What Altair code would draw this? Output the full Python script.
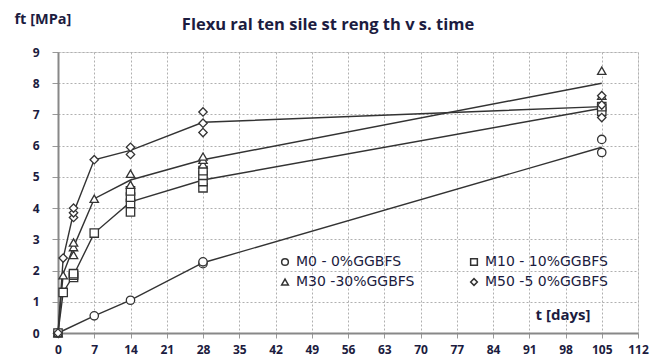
import altair as alt
import pandas as pd

# ---- data ----
series = ["M0 - 0%GGBFS", "M10 - 10%GGBFS", "M30 -30%GGBFS", "M50  -5 0%GGBFS"]
shapes = ["circle", "square", "triangle-up", "diamond"]

# mean lines
m0_line_t = [0, 7, 14, 28, 105]
m0_line_v = [0, 0.55, 1.05, 2.25, 5.95]
m10_line_t = [0, 1, 3, 7, 14, 28, 105]
m10_line_v = [0, 1.3, 1.85, 3.2, 4.2, 4.9, 7.2]
m30_line_t = [0, 1, 3, 7, 14, 28, 105]
m30_line_v = [0, 1.9, 2.75, 4.3, 4.9, 5.55, 8.0]
m50_line_t = [0, 1, 3, 7, 14, 28, 105]
m50_line_v = [0, 2.4, 3.85, 5.55, 5.85, 6.75, 7.25]

# individual specimens
m0_pts_t = [0, 7, 14, 28, 28, 105, 105]
m0_pts_v = [0, 0.55, 1.05, 2.22, 2.28, 5.78, 6.2]
m10_pts_t = [0, 1, 3, 3, 3, 7, 14, 14, 14, 14, 28, 28, 28, 28, 105, 105]
m10_pts_v = [0, 1.3, 1.78, 1.85, 1.9, 3.2, 3.88, 4.15, 4.35, 4.55, 4.65, 4.85, 5.05, 5.2, 7.1, 7.25]
m30_pts_t = [0, 1, 3, 3, 3, 7, 14, 14, 28, 28, 28, 105, 105]
m30_pts_v = [0, 1.85, 2.5, 2.75, 2.9, 4.3, 4.75, 5.1, 5.4, 5.55, 5.65, 7.6, 8.4]
m50_pts_t = [0, 1, 3, 3, 3, 7, 14, 14, 28, 28, 28, 105, 105, 105]
m50_pts_v = [0, 2.4, 3.7, 3.85, 4.0, 5.55, 5.72, 5.95, 6.42, 6.72, 7.08, 6.9, 7.3, 7.6]

x_ticks = list(range(0, 113, 7))
y_ticks = list(range(0, 10))

line_sets = [(m0_line_t, m0_line_v), (m10_line_t, m10_line_v),
             (m30_line_t, m30_line_v), (m50_line_t, m50_line_v)]
pt_sets = [(m0_pts_t, m0_pts_v), (m10_pts_t, m10_pts_v),
           (m30_pts_t, m30_pts_v), (m50_pts_t, m50_pts_v)]

line_rows, pt_rows = [], []
for s, (ts, vs) in zip(series, line_sets):
    for t, v in zip(ts, vs):
        line_rows.append({"series": s, "t": t, "v": v})
for s, (ts, vs) in zip(series, pt_sets):
    for t, v in zip(ts, vs):
        pt_rows.append({"series": s, "t": t, "v": v})
lines_df = pd.DataFrame(line_rows)
pts_df = pd.DataFrame(pt_rows)

ink = "#333333"
txt = "#1c1c40"

xs = alt.Scale(domain=[0, 112], nice=False, zero=False)
ys = alt.Scale(domain=[0, 9], nice=False)

x_axis = alt.Axis(values=x_ticks, title="t [days]", titleAngle=0,
                  titleX=532, titleY=-19, titleAlign="right", titleBaseline="middle",
                  titleFontSize=15, titleFontWeight="bold", titleColor=txt,
                  labelFontSize=12, labelFontWeight="bold", labelColor=txt,
                  labelPadding=6, tickSize=5, tickColor="#999999",
                  labelOverlap=False, labelFlush=False,
                  domainColor="#888888", domainWidth=2,
                  gridDash=[2, 2], gridColor="#b0b0b0")
y_axis = alt.Axis(values=y_ticks, title="ft [MPa]", titleAngle=0,
                  titleX=-44, titleY=-33, titleAlign="left", titleBaseline="middle",
                  titleFontSize=14.5, titleFontWeight="bold", titleColor=txt,
                  labelFontSize=12, labelFontWeight="bold", labelColor=txt,
                  labelOverlap=False,
                  labelPadding=13, tickSize=6, tickColor="#999999",
                  domainColor="#888888", domainWidth=2,
                  gridDash=[2, 2], gridColor="#b0b0b0")

legend = alt.Legend(title=None, orient="none", legendX=220, legendY=203,
                    columns=2, direction="horizontal",
                    columnPadding=52, rowPadding=6,
                    labelFontSize=14, labelColor=txt, labelFont="DejaVu Sans",
                    symbolSize=45, symbolFillColor="white", symbolStrokeWidth=1.5,
                    labelOffset=4, labelLimit=220)

lines = alt.Chart(lines_df).mark_line(color=ink, strokeWidth=1.4).encode(
    x=alt.X("t:Q", scale=xs, axis=x_axis),
    y=alt.Y("v:Q", scale=ys, axis=y_axis),
    detail="series:N",
    order="t:Q",
)

points = alt.Chart(pts_df).mark_point(filled=False, fill="white", fillOpacity=1,
                                      strokeWidth=1.3, size=70, opacity=1).encode(
    x=alt.X("t:Q", scale=xs, axis=x_axis),
    y=alt.Y("v:Q", scale=ys, axis=y_axis),
    shape=alt.Shape("series:N", scale=alt.Scale(domain=series, range=shapes), legend=legend),
    color=alt.Color("series:N", scale=alt.Scale(domain=series, range=[ink] * 4), legend=legend),
)

chart = (lines + points).properties(
    width=580, height=281,
    padding={"left": 58, "top": 52, "right": 13, "bottom": 25},
    autosize=alt.AutoSizeParams(type="none"),
    title=alt.TitleParams("Flexu ral ten sile st reng th v s. time", anchor="middle",
                          fontSize=16.5, fontWeight="bold", color=txt, offset=0, dy=22, dx=-20,
                          font="Open Sans"),
    background="white",
).configure_view(stroke="#8a8a8a", strokeWidth=2).configure(font="Open Sans")

chart.save("out.html", embed_options={"renderer": "svg", "actions": False})
